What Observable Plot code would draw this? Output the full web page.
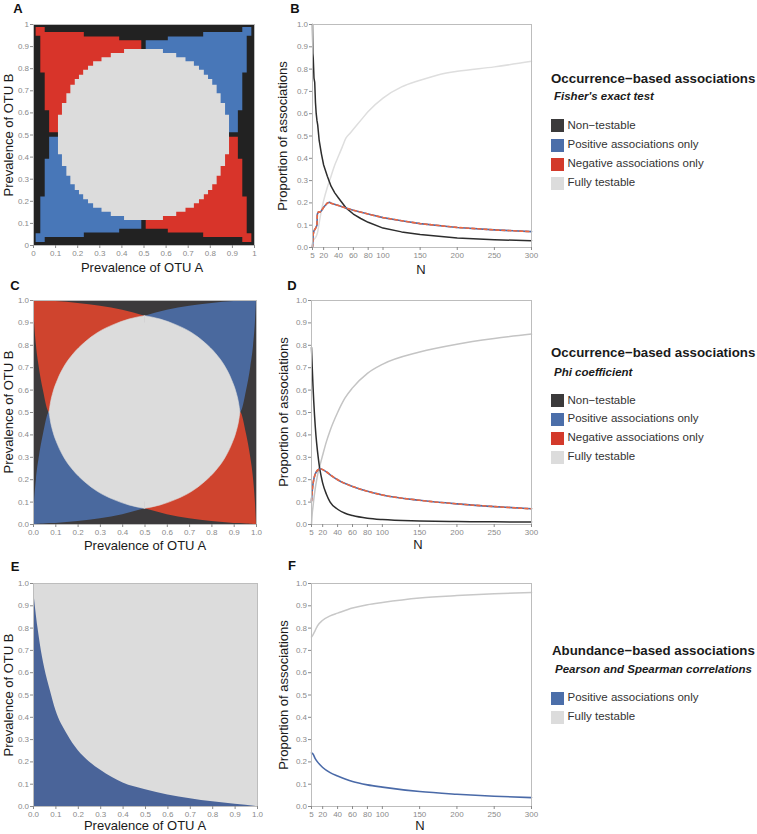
<!DOCTYPE html>
<html>
<head>
<meta charset="utf-8">
<script src="https://cdn.jsdelivr.net/npm/d3@7"></script>
<script src="https://cdn.jsdelivr.net/npm/@observablehq/plot@0.6"></script>
<style>
html,body{margin:0;padding:0;background:#fff;}
#root{position:relative;width:757px;height:834px;overflow:hidden;font-family:"Liberation Sans",Arial,Helvetica,sans-serif;}
.t{position:absolute;white-space:nowrap;line-height:1;}
.letter{font-weight:bold;font-size:13px;color:#111;transform:translate(-50%,-50%);}
.xt{font-size:13px;color:#1a1a1a;transform:translate(-50%,-50%);}
.yt{font-size:13px;color:#1a1a1a;transform:translate(-50%,-50%) rotate(-90deg);}
.lt{font-weight:bold;font-size:13.3px;color:#1a1a1a;transform:translateY(-50%);}
.ls{font-weight:bold;font-style:italic;font-size:11.5px;color:#1a1a1a;transform:translateY(-50%);}
.li{font-size:11.5px;color:#333;transform:translateY(-50%);}
.sw{position:absolute;width:13px;height:13px;}
</style>
</head>
<body>
<div id="root"></div>
<script>
// ---------------- DATA ----------------
const prevTicks = [0, 0.1, 0.2, 0.3, 0.4, 0.5, 0.6, 0.7, 0.8, 0.9, 1];
const prevLabelsA = ["0", "0.1", "0.2", "0.3", "0.4", "0.5", "0.6", "0.7", "0.8", "0.9", "1"];
const prevLabels = ["0.0", "0.1", "0.2", "0.3", "0.4", "0.5", "0.6", "0.7", "0.8", "0.9", "1.0"];
const nTicks = [5, 20, 40, 60, 80, 100, 150, 200, 250, 300];
const nLabels = ["5", "20", "40", "60", "80", "100", "150", "200", "250", "300"];

const categories4 = ["Non\u2212testable", "Positive associations only", "Negative associations only", "Fully testable"];
const categories2 = ["Positive associations only", "Fully testable"];

// Panel A (Fisher's exact test, pixel grid) — staircase boundaries
const aCircleX      = [0.113,0.131,0.151,0.169,0.189,0.208,0.227,0.249,0.272,0.310,0.352,0.412,0.588,0.648,0.690,0.728,0.751,0.773,0.792,0.811,0.831,0.849,0.869,0.887];
const aCircleTop    = [0.589,0.642,0.687,0.725,0.751,0.770,0.793,0.811,0.831,0.850,0.869,0.887,0.869,0.850,0.831,0.811,0.793,0.770,0.751,0.725,0.687,0.642,0.589,0.589];
const aCircleBottom = [0.411,0.358,0.313,0.275,0.249,0.230,0.207,0.189,0.169,0.150,0.131,0.113,0.131,0.150,0.169,0.189,0.207,0.230,0.249,0.275,0.313,0.358,0.411,0.411];
const aLeftX   = [0.012,0.033,0.053,0.073,0.23,0.39,0.49];
const aRightX  = [0.51,0.61,0.77,0.927,0.947,0.967,0.988];
const aNegULTop    = [0.986,0.986,0.964,0.964,0.944,0.926,0.926];
const aNegULBottom = [0.947,0.78,0.61,0.51,0.51,0.51,0.51];
const aPosURTop    = [0.926,0.944,0.964,0.964,0.986,0.986,0.986];
const aPosURBottom = [0.51,0.51,0.51,0.61,0.78,0.947,0.947];
const aNegLRTop    = [0.49,0.49,0.49,0.39,0.22,0.053,0.053];
const aNegLRBottom = [0.074,0.056,0.036,0.036,0.014,0.014,0.014];
const aPosLLTop    = [0.053,0.22,0.39,0.49,0.49,0.49,0.49];
const aPosLLBottom = [0.014,0.014,0.036,0.036,0.056,0.074,0.074];

// Panel C (Phi coefficient) — smooth boundaries
const cLeftX  = [0, 0.005, 0.013, 0.026, 0.044, 0.072, 0.1, 0.2, 0.3, 0.4, 0.5];
const cRightX = [0.5, 0.6, 0.7, 0.8, 0.9, 0.928, 0.956, 0.974, 0.987, 0.995, 1];
const cNegULTop    = [1, 0.9998, 0.9995, 0.999, 0.998, 0.996, 0.995, 0.987, 0.974, 0.956, 0.93];
const cNegULBottom = [1, 0.9, 0.8, 0.7, 0.6, 0.5, 0.5, 0.5, 0.5, 0.5, 0.5];
const cPosURTop    = [0.93, 0.956, 0.974, 0.987, 0.995, 0.996, 0.998, 0.999, 0.9995, 0.9998, 1];
const cPosURBottom = [0.5, 0.5, 0.5, 0.5, 0.5, 0.5, 0.6, 0.7, 0.8, 0.9, 1];
const cNegLRTop    = [0.5, 0.5, 0.5, 0.5, 0.5, 0.5, 0.4, 0.3, 0.2, 0.1, 0];
const cNegLRBottom = [0.07, 0.044, 0.026, 0.013, 0.005, 0.004, 0.002, 0.001, 0.0005, 0.0002, 0];
const cPosLLTop    = [0, 0.1, 0.2, 0.3, 0.4, 0.5, 0.5, 0.5, 0.5, 0.5, 0.5];
const cPosLLBottom = [0, 0.0002, 0.0005, 0.001, 0.002, 0.004, 0.005, 0.013, 0.026, 0.044, 0.07];
const cBlobLeftX   = [0.072, 0.078, 0.09, 0.11, 0.14, 0.18, 0.23, 0.29, 0.36, 0.43, 0.5];
const cBlobLeftTop = [0.5, 0.54, 0.59, 0.645, 0.705, 0.76, 0.81, 0.855, 0.89, 0.915, 0.93];
const cBlobLeftBottom = [0.5, 0.46, 0.41, 0.355, 0.295, 0.24, 0.19, 0.145, 0.11, 0.085, 0.07];
const cBlobRightX  = [0.5, 0.57, 0.64, 0.71, 0.77, 0.82, 0.86, 0.89, 0.91, 0.922, 0.928];
const cBlobRightTop = [0.93, 0.915, 0.89, 0.855, 0.81, 0.76, 0.705, 0.645, 0.59, 0.54, 0.5];
const cBlobRightBottom = [0.07, 0.085, 0.11, 0.145, 0.19, 0.24, 0.295, 0.355, 0.41, 0.46, 0.5];
const cBlobCoreX = [0.45, 0.55];
const cBlobCoreTop = [0.9, 0.9];
const cBlobCoreBottom = [0.1, 0.1];

// Panel E (Pearson / Spearman)
const eX   = [0, 0.01, 0.02, 0.03, 0.05, 0.075, 0.1, 0.15, 0.2, 0.25, 0.3, 0.4, 0.5, 0.6, 0.7, 0.8, 0.9, 1];
const ePos = [0.98, 0.88, 0.8, 0.73, 0.62, 0.52, 0.43, 0.325, 0.25, 0.2, 0.162, 0.105, 0.075, 0.052, 0.035, 0.021, 0.01, 0];

// Panel B (Fisher) proportions vs N
const bNonN = [5, 5.5, 6, 7, 8, 9, 10, 11, 12, 14, 17, 20, 25, 30, 35, 40, 50, 60, 70, 80, 100, 125, 150, 200, 250, 300];
const bNon  = [1.0, 0.87, 0.85, 0.76, 0.74, 0.65, 0.6, 0.57, 0.55, 0.48, 0.42, 0.37, 0.32, 0.275, 0.245, 0.222, 0.178, 0.15, 0.13, 0.113, 0.087, 0.07, 0.058, 0.043, 0.035, 0.03];
const bFullN = [5, 6, 8, 10, 12, 14, 17, 20, 25, 30, 35, 40, 45, 50, 55, 60, 70, 80, 100, 125, 150, 175, 200, 250, 300];
const bFull  = [0.0, 0.03, 0.04, 0.05, 0.07, 0.11, 0.165, 0.21, 0.27, 0.32, 0.37, 0.41, 0.45, 0.49, 0.51, 0.53, 0.57, 0.61, 0.67, 0.72, 0.75, 0.775, 0.79, 0.81, 0.835];
const bSignN = [5, 6, 7, 9, 11, 11.5, 13, 15, 17, 20, 25, 28, 30, 40, 50, 60, 80, 100, 125, 150, 200, 250, 300];
const bPos   = [0, 0.06, 0.075, 0.085, 0.1, 0.15, 0.16, 0.158, 0.165, 0.18, 0.2, 0.203, 0.198, 0.188, 0.177, 0.167, 0.15, 0.134, 0.12, 0.107, 0.09, 0.079, 0.071];
const bNeg   = [0, 0.06, 0.075, 0.085, 0.1, 0.15, 0.16, 0.158, 0.165, 0.18, 0.2, 0.203, 0.198, 0.188, 0.177, 0.167, 0.15, 0.134, 0.12, 0.107, 0.09, 0.079, 0.071];

// Panel D (Phi)
const dN    = [5, 6, 7, 8, 10, 12, 14, 16, 18, 20, 25, 30, 40, 50, 60, 80, 100, 150, 200, 250, 300];
const dNon  = [0.79, 0.7, 0.62, 0.55, 0.44, 0.36, 0.3, 0.25, 0.215, 0.185, 0.135, 0.1, 0.068, 0.05, 0.04, 0.028, 0.022, 0.016, 0.013, 0.012, 0.011];
const dFull = [0, 0.05, 0.08, 0.11, 0.16, 0.2, 0.235, 0.26, 0.285, 0.31, 0.37, 0.42, 0.5, 0.565, 0.61, 0.675, 0.715, 0.77, 0.805, 0.83, 0.85];
const dPos  = [0.105, 0.15, 0.18, 0.2, 0.225, 0.238, 0.245, 0.248, 0.248, 0.245, 0.235, 0.222, 0.2, 0.183, 0.17, 0.148, 0.132, 0.108, 0.092, 0.08, 0.07];
const dNeg  = [0.105, 0.15, 0.18, 0.2, 0.225, 0.238, 0.245, 0.248, 0.248, 0.245, 0.235, 0.222, 0.2, 0.183, 0.17, 0.148, 0.132, 0.108, 0.092, 0.08, 0.07];

// Panel F (correlations)
const fN    = [5, 7, 10, 13, 20, 30, 40, 60, 80, 100, 150, 200, 250, 300];
const fPos  = [0.24, 0.235, 0.215, 0.2, 0.175, 0.152, 0.137, 0.112, 0.097, 0.087, 0.067, 0.055, 0.046, 0.04];
const fFull = [0.76, 0.77, 0.79, 0.81, 0.835, 0.855, 0.867, 0.89, 0.905, 0.915, 0.935, 0.946, 0.954, 0.96];

// ---------------- HELPERS ----------------
const root = document.getElementById("root");
const tbl = (xs, lo, hi) => xs.map((x, i) => ({x, lo: lo[i], hi: hi[i]}));
const region = (xs, lo, hi, fill, curve, extra = {}) => Plot.areaY(tbl(xs, lo, hi), {x: "x", y1: "lo", y2: "hi", fill, curve, ...extra});
const series = (ns, vs) => ns.map((n, i) => ({n, v: vs[i]}));
const fmtFrom = (ticks, labels) => d => labels[ticks.indexOf(d)];

function panel({left, top, width, height, ml, mr, mt, mb, xDomain, xTicks, xFmt, yFmt, marks}) {
  const svg = Plot.plot({
    width, height, marginLeft: ml, marginRight: mr, marginTop: mt, marginBottom: mb,
    x: {domain: xDomain},
    y: {domain: [0, 1]},
    style: {fontFamily: '"Liberation Sans", Arial, sans-serif', fontSize: "8px", color: "#8a8a8a", background: "transparent", overflow: "visible"},
    marks: [
      ...marks,
      Plot.frame({stroke: "#bdbdbd", strokeWidth: 1}),
      Plot.axisX({ticks: xTicks, tickFormat: xFmt, tickSize: 3, tickPadding: 1.5, label: null}),
      Plot.axisY({ticks: prevTicks, tickFormat: yFmt, tickSize: 3, tickPadding: 1.5, label: null})
    ]
  });
  svg.style.position = "absolute";
  svg.style.left = left + "px";
  svg.style.top = top + "px";
  root.appendChild(svg);
}
function txt(cls, s, x, y) {
  const d = document.createElement("div");
  d.className = "t " + cls;
  d.textContent = s;
  d.style.left = x + "px";
  d.style.top = y + "px";
  root.appendChild(d);
}
function swatch(x, y, color) {
  const d = document.createElement("div");
  d.className = "sw";
  d.style.left = x + "px";
  d.style.top = (y - 6.5) + "px";
  d.style.background = color;
  root.appendChild(d);
}

// colors
const A_DARK = "#222222", A_RED = "#d8342a", A_BLUE = "#4877b8", LIGHT = "#dcdcdc";
const C_DARK = "#3c3a3c", C_RED = "#cf442e", C_BLUE = "#4a699e";
const E_BLUE = "#4a6499";
const LINE_BLACK = "#2d2d2d", LINE_BLUE = "#4a6aa8", LINE_RED = "#f0683f";
const L_DARK = "#3b3a3b", L_BLUE = "#4b6ea9", L_RED = "#d33a2b", L_GRAY = "#dcdcdc";

const fmtA = fmtFrom(prevTicks, prevLabelsA);
const fmtP = fmtFrom(prevTicks, prevLabels);
const fmtN = fmtFrom(nTicks, nLabels);

// ---------------- PANEL A ----------------
panel({left: 0, top: 0, width: 262, height: 262, ml: 33, mr: 8, mt: 24, mb: 17,
  xDomain: [0, 1], xTicks: prevTicks, xFmt: fmtA, yFmt: fmtA,
  marks: [
    Plot.frame({fill: A_DARK}),
    region(aLeftX, aNegULBottom, aNegULTop, A_RED, "step-after"),
    region(aRightX, aPosURBottom, aPosURTop, A_BLUE, "step-after"),
    region(aRightX, aNegLRBottom, aNegLRTop, A_RED, "step-after"),
    region(aLeftX, aPosLLBottom, aPosLLTop, A_BLUE, "step-after"),
    region(aCircleX, aCircleBottom, aCircleTop, LIGHT, "step-after")
  ]});

// ---------------- PANEL B ----------------
panel({left: 280, top: 0, width: 257, height: 264, ml: 32, mr: 6, mt: 24, mb: 17,
  xDomain: [5, 300], xTicks: nTicks, xFmt: fmtN, yFmt: fmtP,
  marks: [
    Plot.line(series(bFullN, bFull), {x: "n", y: "v", stroke: "#dedede", strokeWidth: 1.5, curve: "monotone-x"}),
    Plot.line(series(bNonN, bNon), {x: "n", y: "v", stroke: LINE_BLACK, strokeWidth: 1.5}),
    Plot.line(series(bSignN, bPos), {x: "n", y: "v", stroke: LINE_BLUE, strokeWidth: 1.6}),
    Plot.line(series(bSignN, bNeg), {x: "n", y: "v", stroke: LINE_RED, strokeWidth: 1.6, strokeDasharray: "3,3"})
  ]});

// ---------------- PANEL C ----------------
panel({left: 0, top: 276, width: 262, height: 265, ml: 33, mr: 6, mt: 24, mb: 17,
  xDomain: [0, 1], xTicks: prevTicks, xFmt: fmtP, yFmt: fmtP,
  marks: [
    Plot.frame({fill: C_DARK}),
    region(cLeftX, cNegULBottom, cNegULTop, C_RED, "monotone-x"),
    region(cRightX, cPosURBottom, cPosURTop, C_BLUE, "monotone-x"),
    region(cRightX, cNegLRBottom, cNegLRTop, C_RED, "monotone-x"),
    region(cLeftX, cPosLLBottom, cPosLLTop, C_BLUE, "monotone-x"),
    region(cBlobCoreX, cBlobCoreBottom, cBlobCoreTop, LIGHT, "linear"),
    region(cBlobLeftX, cBlobLeftBottom, cBlobLeftTop, LIGHT, "monotone-x", {stroke: LIGHT, strokeWidth: 0.6}),
    region(cBlobRightX, cBlobRightBottom, cBlobRightTop, LIGHT, "monotone-x", {stroke: LIGHT, strokeWidth: 0.6})
  ]});

// ---------------- PANEL D ----------------
panel({left: 280, top: 276, width: 257, height: 265, ml: 31, mr: 6, mt: 24, mb: 17,
  xDomain: [5, 300], xTicks: nTicks, xFmt: fmtN, yFmt: fmtP,
  marks: [
    Plot.line(series(dN, dFull), {x: "n", y: "v", stroke: "#c4c4c4", strokeWidth: 1.5, curve: "monotone-x"}),
    Plot.line(series(dN, dNon), {x: "n", y: "v", stroke: LINE_BLACK, strokeWidth: 1.5, curve: "monotone-x"}),
    Plot.line(series(dN, dPos), {x: "n", y: "v", stroke: LINE_BLUE, strokeWidth: 1.6, curve: "monotone-x"}),
    Plot.line(series(dN, dNeg), {x: "n", y: "v", stroke: LINE_RED, strokeWidth: 1.6, strokeDasharray: "3,3", curve: "monotone-x"})
  ]});

// ---------------- PANEL E ----------------
panel({left: 0, top: 559, width: 263, height: 264, ml: 33, mr: 6, mt: 24, mb: 17,
  xDomain: [0, 1], xTicks: prevTicks, xFmt: fmtP, yFmt: fmtP,
  marks: [
    Plot.frame({fill: LIGHT}),
    Plot.areaY(series(eX, ePos), {x: "n", y: "v", fill: E_BLUE, curve: "monotone-x"})
  ]});

// ---------------- PANEL F ----------------
panel({left: 280, top: 559, width: 257, height: 264, ml: 31, mr: 6, mt: 24, mb: 17,
  xDomain: [5, 300], xTicks: nTicks, xFmt: fmtN, yFmt: fmtP,
  marks: [
    Plot.line(series(fN, fFull), {x: "n", y: "v", stroke: "#c8c8c8", strokeWidth: 1.5, curve: "monotone-x"}),
    Plot.line(series(fN, fPos), {x: "n", y: "v", stroke: LINE_BLUE, strokeWidth: 1.6, curve: "monotone-x"})
  ]});

// ---------------- TEXT ----------------
txt("letter", "A", 18, 8);
txt("letter", "B", 295, 8);
txt("letter", "C", 15, 285);
txt("letter", "D", 292, 285);
txt("letter", "E", 15, 566);
txt("letter", "F", 292, 565);

txt("xt", "Prevalence of OTU A", 142, 266.5);
txt("yt", "Prevalence of OTU B", 7.5, 135);
txt("xt", "N", 421, 268.5);
txt("yt", "Proportion of associations", 282, 135.5);

txt("xt", "Prevalence of OTU A", 145, 545);
txt("yt", "Prevalence of OTU B", 7.5, 412);
txt("xt", "N", 418, 543.5);
txt("yt", "Proportion of associations", 283, 412);

txt("xt", "Prevalence of OTU A", 145, 825);
txt("yt", "Prevalence of OTU B", 7.5, 694.5);
txt("xt", "N", 420, 825);
txt("yt", "Proportion of associations", 283, 694.5);

// ---------------- LEGENDS ----------------
function legend(title, sub, titleY, subY, items, colors, itemYs, tx) {
  txt("lt", title, tx, titleY);
  txt("ls", sub, tx + 3, subY);
  items.forEach((s, i) => {
    swatch(551, itemYs[i], colors[i]);
    txt("li", s, 567.5, itemYs[i]);
  });
}
legend("Occurrence\u2212based associations", "Fisher's exact test", 79, 96.7,
  categories4, [L_DARK, L_BLUE, L_RED, L_GRAY], [125.7, 145, 164, 183.3], 551);
legend("Occurrence\u2212based associations", "Phi coefficient", 353.3, 373.3,
  categories4, [L_DARK, L_BLUE, L_RED, L_GRAY], [400.7, 419.3, 438.3, 457.3], 551);
legend("Abundance\u2212based associations", "Pearson and Spearman correlations", 651, 670,
  categories2, [L_BLUE, L_GRAY], [698.3, 717.3], 552);
</script>
</body>
</html>
